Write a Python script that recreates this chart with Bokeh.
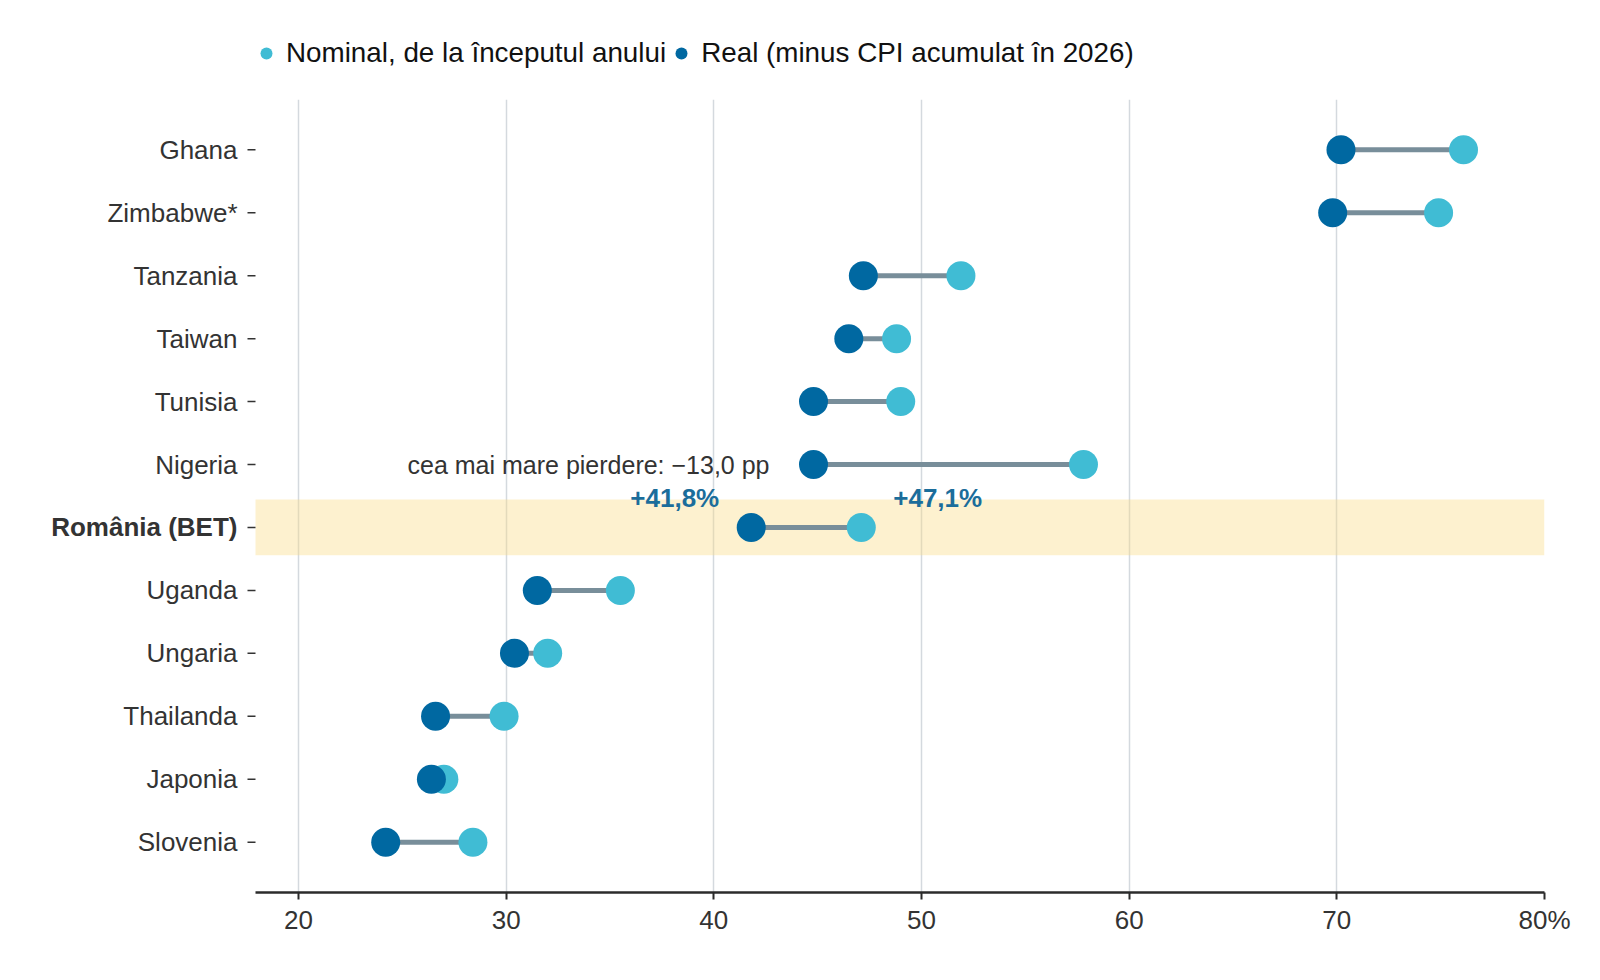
import math
from bokeh.plotting import figure
from bokeh.layouts import column
from bokeh.models import (ColumnDataSource, FactorRange, Range1d, FixedTicker,
                          Legend, LegendItem, Label)
from bokeh.core.properties import value
from bokeh.embed import file_html
from bokeh.resources import INLINE

# date (randament pietelor bursiere, %)
countries = ["Ghana", "Zimbabwe*", "Tanzania", "Taiwan", "Tunisia", "Nigeria",
             "România (BET)", "Uganda", "Ungaria", "Thailanda", "Japonia", "Slovenia"]
nominal = [76.1, 74.9, 51.9, 48.8, 49.0, 57.8, 47.1, 35.5, 32.0, 29.9, 27.0, 28.4]
real = [70.2, 69.8, 47.2, 46.5, 44.8, 44.8, 41.8, 31.5, 30.4, 26.6, 26.4, 24.2]
x_ticks = [20, 30, 40, 50, 60, 70, 80]
highlight = "România (BET)"
legend_labels = ["Nominal, de la începutul anului", "Real (minus CPI acumulat în 2026)"]

FONT = "Liberation Sans"
C_NOM = "#40bcd4"
C_REAL = "#0068a1"
C_LINE = "#788e9a"
C_LABEL = "#1b6d9b"

X_MIN, X_MAX = 17.93, 80      # marginile vizibile ale axei x
FRAME_LEFT = 255              # spatiul din stanga pentru etichetele tarilor
W, H_TOP, H = 1584, 99, 865   # latime, banda legendei, graficul

factors = list(reversed(countries))  # primul din lista apare sus

def pos(name):
    # coordonata sintetica a unei categorii pe FactorRange
    return factors.index(name) + 0.5

source = ColumnDataSource(data=dict(
    country=countries, nominal=nominal, real=real,
    style=["bold" if c == highlight else "normal" for c in countries]))

frame_w = W - 40
x_start = X_MIN - FRAME_LEFT * (X_MAX - X_MIN) / (frame_w - FRAME_LEFT)

p = figure(width=W, height=H,
           x_range=Range1d(x_start, X_MAX),
           y_range=FactorRange(factors=factors, range_padding=0.05),
           y_axis_location=None,
           output_backend="svg", toolbar_location=None,
           min_border_left=0, min_border_right=40,
           min_border_top=0, min_border_bottom=72)
p.outline_line_color = None
p.background_fill_color = "white"
p.border_fill_color = "white"

# banda pentru Romania
band = ColumnDataSource(data=dict(y=[highlight]))
p.hbar(y="y", left=X_MIN, right=X_MAX, height=0.886, source=band,
       fill_color="#fadc87", fill_alpha=0.4, line_color=None)

p.segment(x0="real", x1="nominal", y0="country", y1="country", source=source,
          line_color=C_LINE, line_width=5)
p.scatter("nominal", "country", source=source, size=29,
          fill_color=C_NOM, line_color=None)
p.scatter("real", "country", source=source, size=29,
          fill_color=C_REAL, line_color=None)

# axa y desenata manual (ca Romania sa fie ingrosata)
p.ray(x=X_MIN, y="country", length=8, angle=math.pi, length_units="screen",
      source=source, line_color="#333333", line_width=1.5)
p.text(x=X_MIN, y="country", text="country", source=source, x_offset=-18,
       text_align="right", text_baseline="middle", text_font=value(FONT),
       text_font_size="26px", text_font_style="style", text_color="#333333")

# axa x
p.xaxis.bounds = (X_MIN, X_MAX)
p.xaxis.ticker = FixedTicker(ticks=x_ticks)
p.xaxis.major_label_overrides = {x_ticks[-1]: f"{x_ticks[-1]}%"}
p.xaxis.axis_line_color = "#2b2b2b"
p.xaxis.axis_line_width = 2.5
p.xaxis.major_tick_line_color = "#2b2b2b"
p.xaxis.major_tick_line_width = 2
p.xaxis.major_tick_in = 0
p.xaxis.major_tick_out = 7
p.xaxis.minor_tick_line_color = None
p.xaxis.major_label_standoff = 5
p.xaxis.major_label_text_font = FONT
p.xaxis.major_label_text_font_size = "26px"
p.xaxis.major_label_text_color = "#333333"

p.xgrid.ticker = FixedTicker(ticks=x_ticks)
p.xgrid.grid_line_color = "#d4d9de"
p.xgrid.grid_line_width = 1.5
p.ygrid.grid_line_color = None

# valori pentru Romania
i = countries.index(highlight)
fmt = lambda v: f"+{v:.1f}%".replace(".", ",")
p.add_layout(Label(x=real[i], y=pos(highlight), x_offset=-32, y_offset=29,
                   text=fmt(real[i]), text_align="right", text_baseline="middle",
                   text_font=FONT, text_font_size="26px", text_font_style="bold",
                   text_color=C_LABEL))
p.add_layout(Label(x=nominal[i], y=pos(highlight), x_offset=32, y_offset=29,
                   text=fmt(nominal[i]), text_align="left", text_baseline="middle",
                   text_font=FONT, text_font_size="26px", text_font_style="bold",
                   text_color=C_LABEL))

# cea mai mare pierdere
losses = [n - r for n, r in zip(nominal, real)]
j = losses.index(max(losses))
loss_txt = f"cea mai mare pierdere: \u2212{losses[j]:.1f} pp".replace(".", ",")
p.add_layout(Label(x=real[j], y=pos(countries[j]), x_offset=-44, text=loss_txt,
                   text_align="right", text_baseline="middle",
                   text_font=FONT, text_font_size="25px", text_color="#333333"))

# legenda, intr-o banda separata deasupra graficului
top = figure(width=W, height=H_TOP, x_range=p.x_range, y_range=p.y_range,
             x_axis_location=None, y_axis_location=None,
             output_backend="svg", toolbar_location=None, min_border=0)
top.outline_line_color = None
top.grid.visible = False
g_nom = top.scatter("nominal", "country", source=source, fill_color=C_NOM,
                    line_color=None, visible=False)
g_real = top.scatter("real", "country", source=source, fill_color=C_REAL,
                     line_color=None, visible=False)

legend = Legend(items=[LegendItem(label=legend_labels[0], renderers=[g_nom]),
                       LegendItem(label=legend_labels[1], renderers=[g_real])],
                orientation="horizontal", location=(251, 30))
legend.border_line_color = None
legend.background_fill_alpha = 0
legend.padding = 0
legend.margin = 0
legend.glyph_width = 30
legend.glyph_height = 30
legend.label_standoff = 5
legend.spacing = 0
legend.label_text_font = FONT
legend.label_text_font_size = "27.8px"
legend.label_text_color = "#111111"
top.add_layout(legend)

page = column(top, p, spacing=0)
open("out.html", "w").write(file_html(page, INLINE))
